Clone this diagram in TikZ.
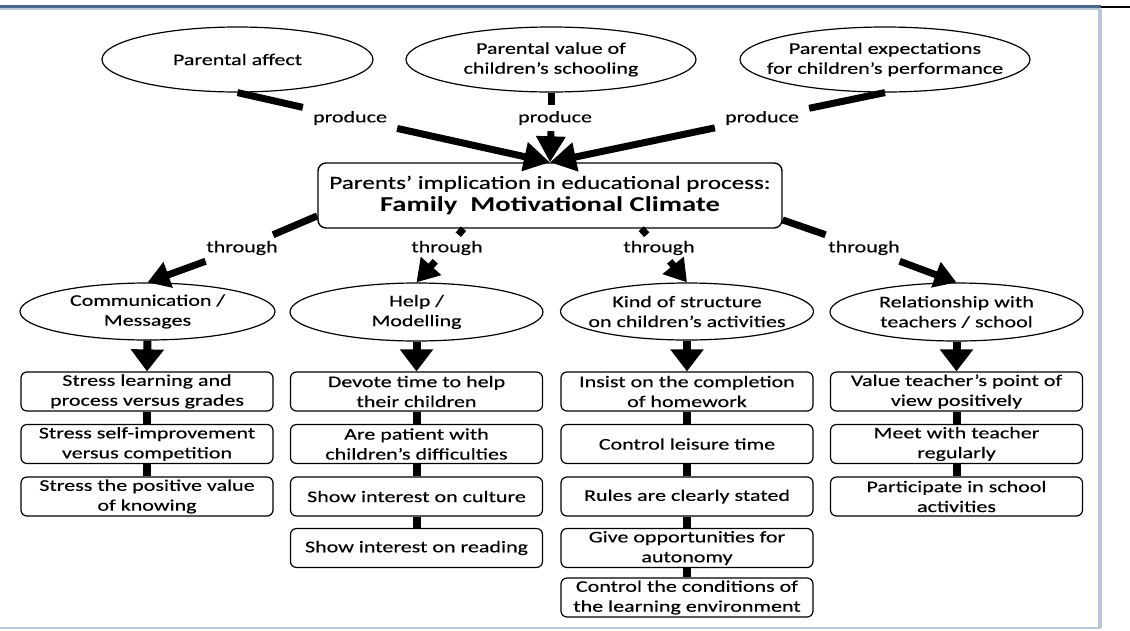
\documentclass[tikz,border=0pt]{standalone}
\usepackage{fontspec}
\setmainfont{Carlito}[FakeStretch=1.35, UprightFeatures={FakeBold=0.3}]
\usetikzlibrary{arrows.meta,shapes.geometric}
\definecolor{frameDark}{RGB}{72,102,142}
\definecolor{frameLight}{RGB}{186,199,216}

\begin{document}
\begin{tikzpicture}[x=1pt,y=-1pt,
  txt/.style={font=\fontsize{16.3}{19.9}\selectfont, align=center},
  oval/.style={draw, line width=1.2pt, ellipse, inner sep=0pt},
  item/.style={txt, draw, line width=1.2pt, rounded corners=6pt,
    minimum width=252pt, minimum height=39pt, inner sep=0pt},
  lbl/.style={txt, inner xsep=10pt, inner ysep=6pt},
  bar/.style={line width=8pt},
  fat/.style={line width=7pt},
  bigtip/.style={-{Triangle[width=28pt,length=26pt]}},
  thtip/.style={-{Triangle[width=26pt,length=22pt]}},
  downtip/.style={-{Triangle[width=32pt,length=22pt]}}
]
\useasboundingbox (0,0) rectangle (1130,630);
\fill[white] (0,0) rectangle (1130,630);

% page frame
\draw[line width=2pt] (1100,6.5) -- (1130,6.5);
\draw[line width=2.2pt, frameDark] (0,6.5) -- (1101,6.5);
\draw[line width=1.6pt, frameLight] (0,8.8) -- (1101,8.8);
\draw[line width=4pt, frameLight] (1099.5,9) -- (1099.5,628);
\draw[line width=2pt, frameLight] (0,627.5) -- (1101,627.5);

% parental factors
\node[oval, minimum width=271pt, minimum height=65pt] (pa) at (237.5,59.5) {};
\node[txt] at (pa) {Parental affect};
\node[oval, minimum width=290pt, minimum height=65pt] (pv) at (551,59.5) {};
\node[txt] at (pv) {Parental value of\\children’s schooling};
\node[oval, minimum width=290pt, minimum height=65pt] (pe) at (885,59.5) {};
\node[txt] at (pe) {Parental expectations\\for children’s performance};

% central box
\node[draw, line width=1.4pt, rounded corners=8pt, minimum width=464pt,
  minimum height=65pt, inner sep=0pt, align=center,
  font=\fontsize{18.6}{23}\selectfont] (cbox) at (550,195.5)
  {Parents’ implication in educational process:\\{\fontsize{21.2}{23}\selectfont\bfseries Family\ \ Motivational Climate}};

% connector labels
\node[lbl] (pr1) at (350,118) {produce};
\node[lbl] (pr2) at (555,118) {produce};
\node[lbl] (pr3) at (762,118) {produce};
\node[lbl] (th1) at (242,248) {through};
\node[lbl] (th2) at (447,248) {through};
\node[lbl] (th3) at (659,248) {through};
\node[lbl] (th4) at (864,248) {through};

% dimensions of the climate
\node[oval, minimum width=255pt, minimum height=57pt] (comm) at (147.5,311.5) {};
\node[txt] at (comm) {Communication /\\Messages};
\node[oval, minimum width=253pt, minimum height=58pt] (help) at (416.5,312) {};
\node[txt] at (help) {Help /\\Modelling};
\node[oval, minimum width=253pt, minimum height=57pt] (kind) at (687,311.5) {};
\node[txt] at (kind) {Kind of structure\\on children’s activities};
\node[oval, minimum width=253pt, minimum height=58pt] (rel) at (956.5,312) {};
\node[txt] at (rel) {Relationship with\\teachers / school};

% practices, column 1
\node[item] (a1) at (147,391.5) {Stress learning and\\process versus grades};
\node[item] (a2) at (147,444) {Stress self-improvement\\versus competition};
\node[item] (a3) at (147,496.5) {Stress the positive value\\of knowing};
% column 2
\node[item] (b1) at (416.5,391.5) {Devote time to help\\their children};
\node[item] (b2) at (416.5,444) {Are patient with\\children’s difficulties};
\node[item] (b3) at (416.5,496.5) {Show interest on culture};
\node[item] (b4) at (416.5,548) {Show interest on reading};
% column 3
\node[item] (c1) at (687,391.5) {Insist on the completion\\of homework};
\node[item] (c2) at (687,444) {Control leisure time};
\node[item] (c3) at (687,496.5) {Rules are clearly stated};
\node[item] (c4) at (687,548) {Give opportunities for\\autonomy};
\node[item] (c5) at (687,597.5) {Control the conditions of\\the learning environment};
% column 4
\node[item] (d1) at (956.5,391.5) {Value teacher’s point of\\view positively};
\node[item] (d2) at (956.5,444) {Meet with teacher\\regularly};
\node[item] (d3) at (956.5,496.5) {Participate in school\\activities};

% produce arrows
\draw[fat] (pa.south) -- (pr1);
\draw[fat, bigtip] (pr1) -- (cbox.north);
\draw[fat] (pv.south) -- (pv.south |- pr2.north);
\draw[fat, bigtip] (pv.south |- pr2.south) -- (cbox.north);
\draw[fat] (pe.south) -- (pr3);
\draw[fat, bigtip] (pr3) -- (cbox.north);

% through arrows
\draw[fat] (cbox.185) -- (th1);
\draw[fat, thtip] (th1) -- (comm.north);
\draw[fat] (cbox.201.4) -- (th2);
\draw[fat, thtip] (th2) -- (help.north);
\draw[fat] (cbox.340.4) -- (th3);
\draw[fat, thtip] (th3) -- (kind.north);
\draw[fat] (cbox.354.5) -- (th4);
\draw[fat, thtip] (th4) -- (rel.north);

% from each dimension to its practices
\draw[bar, downtip] (comm.south) -- (a1.north);
\draw[bar, downtip] (help.south) -- (b1.north);
\draw[bar, downtip] (kind.south) -- (c1.north);
\draw[bar, downtip] (rel.south) -- (d1.north);

% links between practices
\draw[bar] (a1.south) -- (a2.north);
\draw[bar] (a2.south) -- (a3.north);
\draw[bar] (b1.south) -- (b2.north);
\draw[bar] (b2.south) -- (b3.north);
\draw[bar] (b3.south) -- (b4.north);
\draw[bar] (c1.south) -- (c2.north);
\draw[bar] (c2.south) -- (c3.north);
\draw[bar] (c3.south) -- (c4.north);
\draw[bar] (c4.south) -- (c5.north);
\draw[bar] (d1.south) -- (d2.north);
\draw[bar] (d2.south) -- (d3.north);
\end{tikzpicture}
\end{document}
